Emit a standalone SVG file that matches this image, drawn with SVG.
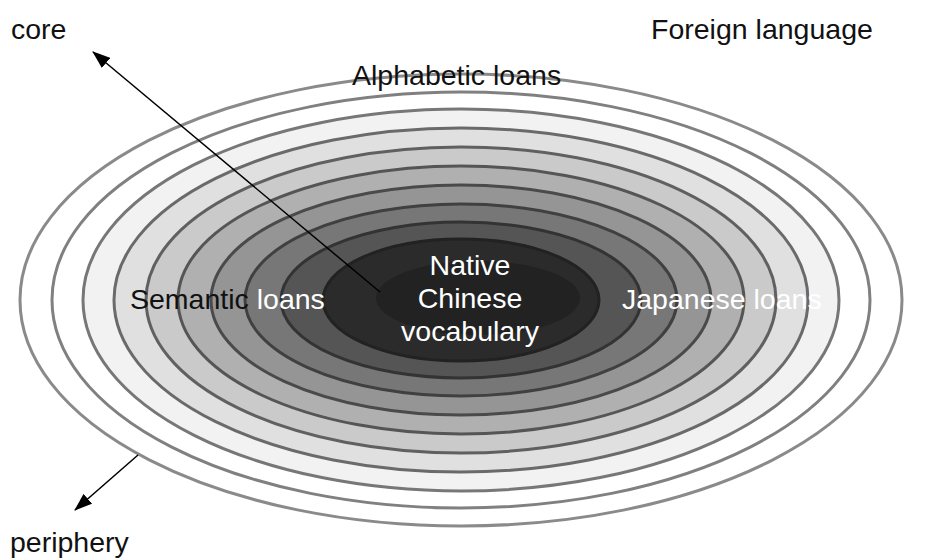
<svg xmlns="http://www.w3.org/2000/svg" width="925" height="558" viewBox="0 0 925 558">
<defs>
<style>
text{font-family:"Liberation Sans",Arial,sans-serif;font-size:28.5px;}
.dk{fill:#111;}
.wt{fill:#fff;}
.ring{stroke-width:3;}
</style>
<marker id="ah" viewBox="0 0 18 13" refX="17" refY="6.5" markerWidth="18" markerHeight="13" orient="auto" markerUnits="userSpaceOnUse">
<path d="M0,0 L18,6.5 L0,13 z" fill="#000"/>
</marker>
</defs>
<rect width="925" height="558" fill="#fff"/>
<g id="rings">
<ellipse class="ring" cx="461" cy="300" rx="441" ry="226" fill="#ffffff" stroke="#8a8a8a"/>
<ellipse class="ring" cx="461" cy="300" rx="409" ry="208" fill="#ffffff" stroke="#808080"/>
<ellipse class="ring" cx="461" cy="300" rx="378" ry="191" fill="#f2f2f2" stroke="#777"/>
<ellipse class="ring" cx="461" cy="300" rx="347" ry="172" fill="#e0e0e0" stroke="#6a6a6a"/>
<ellipse class="ring" cx="461" cy="300" rx="315" ry="153" fill="#cacaca" stroke="#606060"/>
<ellipse class="ring" cx="461" cy="300" rx="283" ry="134" fill="#b0b0b0" stroke="#555"/>
<ellipse class="ring" cx="461" cy="300" rx="250" ry="115" fill="#959595" stroke="#4a4a4a"/>
<ellipse class="ring" cx="461" cy="300" rx="216" ry="96" fill="#777777" stroke="#404040"/>
<ellipse class="ring" cx="461" cy="300" rx="180" ry="78" fill="#555555" stroke="#333"/>
<ellipse class="ring" cx="461" cy="300" rx="138" ry="61" fill="#2b2b2b" stroke="#222"/>
<ellipse cx="478" cy="298" rx="102" ry="37" fill="#222222"/>
</g>
<g id="connectors" stroke="#000" stroke-width="1.5" fill="none">
<line x1="380" y1="292" x2="93" y2="52" marker-end="url(#ah)"/>
<line x1="138" y1="455" x2="75" y2="510" marker-end="url(#ah)"/>
</g>
<g id="core"><text class="dk" x="11" y="39">core</text></g>
<g id="foreign"><text class="dk" x="651" y="39">Foreign language</text></g>
<g id="alphabetic"><text class="dk" x="352" y="85">Alphabetic loans</text></g>
<g id="native"><text class="wt" x="470" text-anchor="middle"><tspan x="470" y="275">Native</tspan><tspan x="470" y="308">Chinese</tspan><tspan x="470" y="341">vocabulary</tspan></text></g>
<g id="semantic"><text x="130" y="309"><tspan class="dk">Semantic </tspan><tspan class="wt">loans</tspan></text></g>
<g id="japanese"><text class="wt" x="622" y="309">Japanese loans</text></g>
<g id="periphery"><text class="dk" x="10" y="552">periphery</text></g>
</svg>
